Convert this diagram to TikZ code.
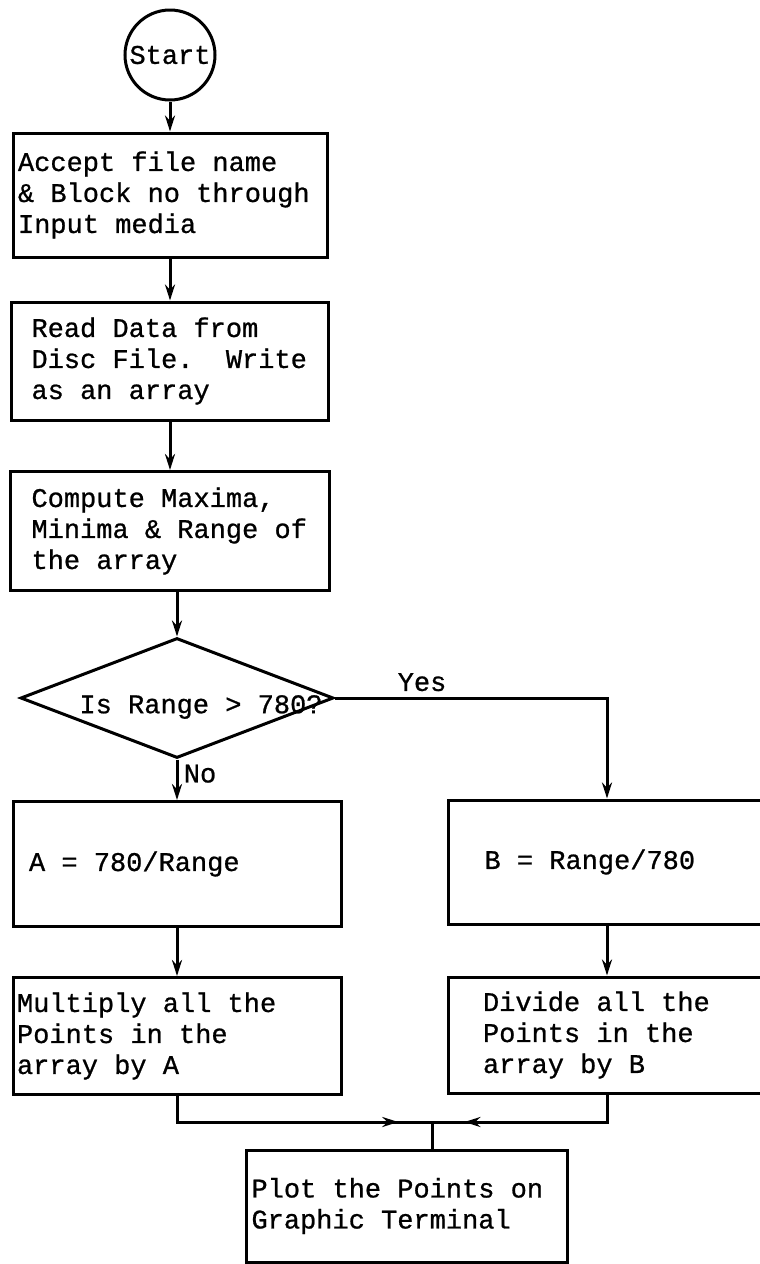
\documentclass[tikz,border=0pt]{standalone}
\usepackage{fontspec}
\newfontfamily\typefont[FakeBold=0.8]{Liberation Mono}
\usetikzlibrary{arrows.meta,shapes.geometric,decorations.markings}

\begin{document}
\begin{tikzpicture}[x=1pt,y=-1pt,
    every node/.style={font=\typefont\fontsize{27pt}{31pt}\selectfont},
    procbox/.style={draw,line width=3pt,align=flush left,inner ysep=0pt},
    terminal/.style={draw,circle,line width=3pt,inner sep=0pt,minimum size=90pt},
    decision/.style={draw,diamond,line width=3pt,inner sep=0pt,
      minimum width=313pt,minimum height=120pt},
    flow/.style={line width=3pt,-{Stealth[length=16pt,width=10pt]}},
    link/.style={line width=3pt},
    mergeflow/.style={link,postaction={decorate},decoration={markings,
      mark=at position #1 with {\arrow{Stealth[length=16pt,width=10pt]}}}}]
  % page frame (scan size)
  \clip (0,0) rectangle (760,1264);
  % left column
  \node[terminal] (start) at (170,55) {Start};
  \node[procbox,text width=304pt,inner xsep=5pt,minimum height=124pt]
    (accept) at (170,195) {Accept file name\\\& Block no through\\Input media};
  \node[procbox,text width=277pt,inner xsep=20pt,minimum height=118pt]
    (readdata) at (170,361) {Read Data from\\Disc File.~~Write\\as an array};
  \node[procbox,text width=277pt,inner xsep=21pt,minimum height=119pt]
    (compute) at (170,531) {Compute Maxima,\\Minima \& Range of\\the array};
  \node[decision] (check) at (177,698) {};
  \node (checktext) at (201,707) {Is Range > 780?};
  \node[procbox,text width=296pt,inner xsep=16pt,minimum height=125pt]
    (scaleA) at (177,864) {A = 780/Range};
  \node[procbox,text width=320pt,inner xsep=4pt,minimum height=117pt]
    (multiply) at (177,1036) {Multiply all the\\Points in the\\array by A};
  % right column (runs off the page edge)
  \node[procbox,text width=245pt,inner xsep=36pt,minimum height=124pt]
    (scaleB) at (607,862) {B = Range/780};
  \node[procbox,text width=248pt,inner xsep=35pt,minimum height=116pt]
    (divide) at (607,1035) {Divide all the\\Points in the\\array by B};
  % output box
  \node[procbox,text width=311pt,inner xsep=5pt,minimum height=112pt]
    (plot) at (407,1206) {Plot the Points on\\Graphic Terminal};
  \coordinate (join) at (432,1122);
  % connectors
  \draw[flow] (start) -- (accept);
  \draw[flow] (accept) -- (readdata);
  \draw[flow] (readdata) -- (compute);
  \draw[flow] (compute.south -| check.north) -- (check.north);
  \draw[flow] (check.south) -- node[right=2pt,pos=0.35] (nolabel) {No} (scaleA.north);
  \draw[flow] (check.east) -| node[above=2pt,pos=0.16] (yeslabel) {Yes} (scaleB.north);
  \draw[flow] (scaleA) -- (multiply);
  \draw[flow] (scaleB) -- (divide);
  \draw[mergeflow=0.88] (multiply.south) |- (join);
  \draw[mergeflow=0.84] (divide.south) |- (join);
  \draw[link] (join) -- (join |- plot.north);
\end{tikzpicture}
\end{document}
